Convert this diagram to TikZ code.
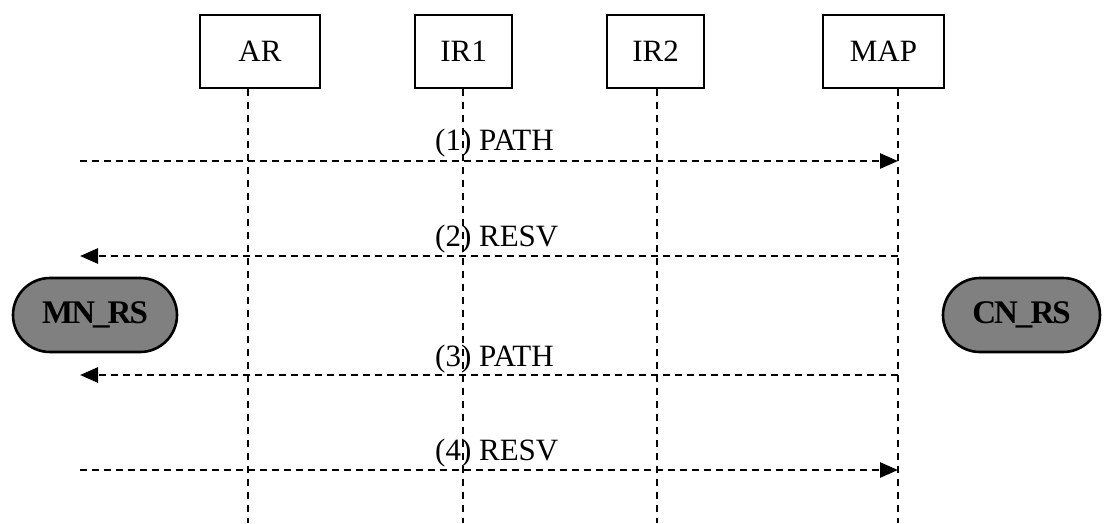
\documentclass[tikz,border=0pt]{standalone}
\usepackage{fontspec}
\setmainfont{Liberation Serif}
\usetikzlibrary{arrows.meta,shapes.misc}
\begin{document}
\begin{tikzpicture}[x=1pt,y=-1pt,
  ent/.style={draw,line width=2.4pt,minimum height=73pt,inner sep=0pt,font=\fontsize{31}{36}\selectfont},
  life/.style={line width=2.4pt,dash pattern=on 7pt off 6pt},
  msg/.style={line width=2.8pt,dash pattern=on 7pt off 5pt,-{Triangle[length=18pt,width=15pt]}},
  lbl/.style={anchor=base west,inner sep=0pt,font=\fontsize{31}{36}\selectfont},
  rs/.style={rounded rectangle,draw,line width=2.6pt,fill=black!50,minimum height=74pt,inner sep=0pt,font=\fontsize{33}{38}\selectfont\bfseries}]
\useasboundingbox (0,0) rectangle (1104,523);
% entities
\node[ent,minimum width=120pt] (ar) at (260,51.5) {AR};
\node[ent,minimum width=97pt] (ir1) at (463.5,51.5) {IR1};
\node[ent,minimum width=97pt] (ir2) at (655.5,51.5) {IR2};
\node[ent,minimum width=121pt] (map) at (883.5,51.5) {MAP};
% lifeline ends
\coordinate (arB) at (248,523);
\coordinate (ir1B) at (463,523);
\coordinate (ir2B) at (657,523);
\coordinate (mapB) at (898,523);
\draw[life] (ar.south -| arB) -- (arB);
\draw[life] (ir1.south -| ir1B) -- (ir1B);
\draw[life] (ir2.south -| ir2B) -- (ir2B);
\draw[life] (map.south -| mapB) -- (mapB);
% message endpoints
\coordinate (l1) at (80,161);
\coordinate (l2) at (80,256);
\coordinate (l3) at (80,375);
\coordinate (l4) at (80,470);
\draw[msg] (l1) -- (l1 -| mapB);
\draw[msg] (l2 -| mapB) -- (l2);
\draw[msg] (l3 -| mapB) -- (l3);
\draw[msg] (l4) -- (l4 -| mapB);
% labels
\node[lbl] (t1) at (435,150) {(1) PATH};
\node[lbl] (t2) at (435,246) {(2) RESV};
\node[lbl] (t3) at (435,366) {(3) PATH};
\node[lbl] (t4) at (435,460) {(4) RESV};
% reservation states
\node[rs,minimum width=164pt] (mn) at (95,315) {\addfontfeatures{LetterSpace=-6}MN\_RS};
\node[rs,minimum width=157pt] (cn) at (1021.5,315) {\addfontfeatures{LetterSpace=-6}CN\_RS};
\end{tikzpicture}
\end{document}
